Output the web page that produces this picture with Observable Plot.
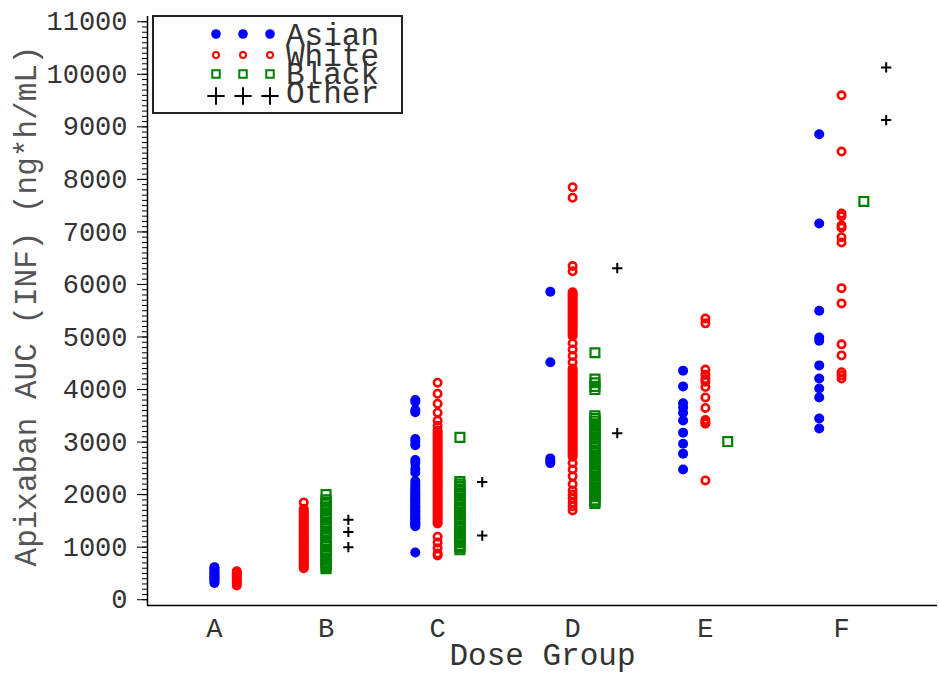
<!DOCTYPE html>
<html><head><meta charset="utf-8">
<script src="https://cdn.jsdelivr.net/npm/d3@7"></script>
<script src="https://cdn.jsdelivr.net/npm/@observablehq/plot@0.6"></script>
<style>
html,body{margin:0;padding:0;background:#fff;overflow:hidden;}
#chart{position:relative;width:939px;height:673px;}
#chart > svg{display:block;}
#legend{position:absolute;left:152px;top:15px;}
</style></head><body><div id="chart"></div>
<script>
// ---- categories / ticks ----
const groups = ["A", "B", "C", "D", "E", "F"];
const groupTick = [1, 2, 3, 4.21, 5.4, 6.62];
const races = ["Asian", "White", "Black", "Other"];
const raceColors = ["#0000ff", "#ff0000", "#008000", "#000000"];
const yMajor = d3.range(0, 11001, 1000);
const yMinor = d3.range(0, 11001, 100);
const xDomain = [0.4, 7.48];
const yDomain = [-110, 11100];

// ---- series values (AUC, ng*h/mL) per dose group ----
const asian = {
  A: [320, 350, 380, 400, 420, 450, 470, 500, 520, 560, 590, 620],
  C: [3800, 3770, 3610, 3570, 3060, 3000, 2940, 2660, 2600, 2490, 2420, 2260, 2200, 2150, 2100, 2060, 2020, 1990, 1950, 1910, 1880, 1850, 1800, 1770, 1740, 1700, 1680, 1640, 1610, 1580, 1560, 1530, 1500, 1470, 1450, 1420, 1400, 900],
  D: [5860, 4520, 2690, 2640, 2600],
  E: [4360, 4060, 3740, 3660, 3560, 3410, 3180, 2970, 2780, 2480],
  F: [8860, 7160, 5500, 4990, 4930, 4460, 4210, 4020, 3850, 3450, 3260]
};
const white = {
  A: [270, 320, 350, 380, 400, 420, 440, 470, 490, 510, 540],
  B: [1850, 1730, 1700, 1670, 1640, 1600, 1570, 1540, 1510, 1480, 1450, 1420, 1390, 1360, 1330, 1300, 1270, 1240, 1210, 1180, 1150, 1120, 1100, 1070, 1040, 1010, 980, 960, 930, 900, 870, 840, 810, 790, 760, 730, 700, 680, 650, 620, 600],
  C: [4130, 3920, 3730, 3560, 3410, 3310, 3220, 3180, 3140, 3100, 3060, 3020, 2980, 2940, 2900, 2860, 2820, 2780, 2740, 2700, 2670, 2630, 2590, 2550, 2510, 2470, 2430, 2390, 2350, 2310, 2270, 2230, 2200, 2160, 2120, 2080, 2040, 2000, 1960, 1920, 1880, 1840, 1800, 1760, 1720, 1680, 1640, 1600, 1560, 1520, 1480, 1450, 1200, 1090, 980, 880, 840],
  D: [7850, 7650, 6350, 6250, 5850, 5820, 5790, 5760, 5720, 5690, 5650, 5620, 5580, 5550, 5510, 5470, 5440, 5400, 5360, 5330, 5290, 5250, 5220, 5180, 5140, 5100, 5060, 5020, 4880, 4760, 4640, 4520, 4400, 4360, 4330, 4290, 4250, 4220, 4180, 4140, 4100, 4070, 4030, 3990, 3950, 3920, 3880, 3840, 3800, 3770, 3730, 3690, 3650, 3620, 3580, 3540, 3500, 3470, 3430, 3390, 3350, 3320, 3280, 3240, 3200, 3170, 3130, 3090, 3050, 3020, 2980, 2940, 2900, 2870, 2830, 2790, 2750, 2720, 2600, 2480, 2350, 2200, 2080, 2000, 1930, 1850, 1780, 1700],
  E: [5350, 5260, 4380, 4280, 4200, 4150, 4050, 3850, 3650, 3420, 3380, 3350, 2270],
  F: [9600, 8530, 7350, 7300, 7120, 7080, 6900, 6800, 5930, 5640, 4860, 4650, 4330, 4270, 4210]
};
const black = {
  B: [2000, 1900, 1860, 1820, 1770, 1730, 1690, 1640, 1600, 1560, 1520, 1470, 1430, 1390, 1350, 1300, 1260, 1220, 1180, 1130, 1090, 1050, 1010, 960, 920, 880, 840, 790, 750, 710, 670, 630, 590],
  C: [3090, 2250, 2200, 2160, 2110, 2070, 2020, 1980, 1930, 1890, 1840, 1800, 1750, 1710, 1660, 1620, 1570, 1530, 1480, 1440, 1390, 1350, 1300, 1260, 1210, 1170, 1120, 1080, 1030, 990, 950],
  D: [4700, 4200, 4130, 4060, 4000, 3500, 3450, 3400, 3350, 3300, 3250, 3200, 3150, 3100, 3060, 3010, 2960, 2900, 2850, 2800, 2750, 2700, 2650, 2600, 2560, 2500, 2450, 2400, 2350, 2300, 2250, 2200, 2150, 2100, 2050, 2000, 1960, 1900, 1860, 1830],
  E: [3010],
  F: [7580]
};
const other = {
  B: [1520, 1290, 1000],
  C: [2240, 1220],
  D: [6310, 3170],
  F: [10130, 9130]
};
const seriesByRace = [asian, white, black, other];

// ---- build rows: races present in a group are clustered around its tick ----
const dodge = 0.2;
const rows = [];
groups.forEach((g, gi) => {
  const present = races.map((r, ri) => ri).filter(ri => seriesByRace[ri][g] && seriesByRace[ri][g].length);
  const n = present.length;
  present.forEach((ri, i) => {
    const xv = groupTick[gi] + (i - Math.floor((n - 1) / 2)) * dodge;
    seriesByRace[ri][g].forEach(v => rows.push({group: g, race: races[ri], x: xv, v}));
  });
});
const byRace = r => rows.filter(d => d.race === r);

const font = "'Liberation Mono', 'DejaVu Sans Mono', monospace";
const txt = "#333";

const chart = Plot.plot({
  width: 939, height: 673,
  marginLeft: 147, marginRight: 2, marginTop: 16, marginBottom: 68,
  style: {fontFamily: font, fontSize: "26px", background: "white", color: txt, overflow: "visible"},
  x: {domain: xDomain, axis: null},
  y: {domain: yDomain, axis: null},
  marks: [
    Plot.axisY(yMinor, {tickSize: 5, tickFormat: () => "", stroke: "#000", label: null}),
    Plot.axisY(yMajor, {tickSize: 10, tickFormat: () => "", stroke: "#000", label: null}),
    Plot.text(yMajor, {y: d => d, text: d => String(d), frameAnchor: "left", textAnchor: "end", dx: -20, fontSize: 27, fill: txt}),
    Plot.text(groupTick, {x: d => d, text: d => groups[groupTick.indexOf(d)], frameAnchor: "bottom", lineAnchor: "bottom", dy: 31, fontSize: 27, fill: txt}),
    Plot.ruleX([xDomain[0]], {stroke: "#000", strokeWidth: 1.5}),
    Plot.ruleY([yDomain[0]], {stroke: "#000", strokeWidth: 1.5}),
    Plot.text(["Dose Group"], {text: d => d, frameAnchor: "bottom", dy: 59, lineAnchor: "bottom", fontSize: 31, fill: txt}),
    Plot.text(["Apixaban AUC (INF) (ng*h/mL)"], {text: d => d, frameAnchor: "left", textAnchor: "middle", rotate: -90, dx: -121, dy: -5, fontSize: 31, fill: "#555"}),
    Plot.dot(byRace("Asian"), {x: "x", y: "v", symbol: "circle", r: 5, fill: raceColors[0], stroke: "none"}),
    Plot.dot(byRace("White"), {x: "x", y: "v", symbol: "circle", r: 3.7, fill: "none", stroke: raceColors[1], strokeWidth: 2.6}),
    Plot.dot(byRace("Black"), {x: "x", y: "v", symbol: "square", r: 5, fill: "none", stroke: raceColors[2], strokeWidth: 2.2}),
    Plot.dot(byRace("Other"), {x: "x", y: "v", symbol: "plus", r: 3.4, stroke: raceColors[3], strokeWidth: 2})
  ]
});
document.getElementById("chart").appendChild(chart);

// ---- legend (overlay inside the plot area) ----
const lg = d3.select("#chart").append("svg").attr("id", "legend")
  .attr("width", 252).attr("height", 100)
  .style("font-family", font);
lg.append("rect").attr("x", 1).attr("y", 1).attr("width", 249).attr("height", 97)
  .attr("fill", "white").attr("stroke", "#222").attr("stroke-width", 2);
const legSym = [
  {type: d3.symbolCircle, size: Math.PI * 4.8 * 4.8, fill: raceColors[0], stroke: "none", sw: 0},
  {type: d3.symbolCircle, size: Math.PI * 3 * 3, fill: "none", stroke: raceColors[1], sw: 2},
  {type: d3.symbolSquare, size: 56, fill: "none", stroke: raceColors[2], sw: 2},
  {type: d3.symbolPlus, size: 100, fill: "none", stroke: raceColors[3], sw: 2}
];
const rowY = [19, 40, 59, 81];
const baseY = [30, 51, 69, 88];
const symX = [64, 91, 118];
races.forEach((r, i) => {
  const s = legSym[i];
  symX.forEach(x => {
    lg.append("path").attr("d", d3.symbol(s.type, s.size)())
      .attr("transform", `translate(${x},${rowY[i]})`)
      .attr("fill", s.fill).attr("stroke", s.stroke).attr("stroke-width", s.sw);
  });
  lg.append("text").attr("x", 134).attr("y", baseY[i]).attr("font-size", 31)
    .attr("fill", txt).text(r);
});
</script></body></html>
